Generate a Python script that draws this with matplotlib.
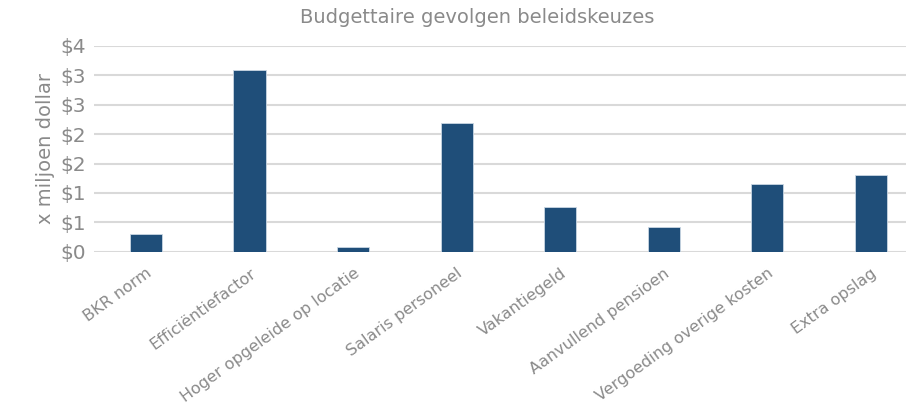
import matplotlib.pyplot as plt
from matplotlib.ticker import FuncFormatter, MultipleLocator

categories = ['BKR norm', 'Efficiëntiefactor', 'Hoger opgeleide op locatie',
              'Salaris personeel', 'Vakantiegeld', 'Aanvullend pensioen',
              'Vergoeding overige kosten', 'Extra opslag']
values = [0.30, 3.08, 0.09, 2.19, 0.77, 0.43, 1.16, 1.31]

grey = '#8a8a8a'
plt.rcParams['font.family'] = ['DejaVu Sans']

fig = plt.figure(figsize=(9.06, 4.15), dpi=100)
ax = fig.add_axes([0.104, 0.393, 0.896, 0.497])

x = range(len(categories))
ax.bar(x, values, width=0.31, color='#1F4E79', edgecolor='#c9d6e3', linewidth=0.6, zorder=3)

ax.set_ylim(0, 3.5)
ax.set_xlim(-0.5, 7.34)
ax.yaxis.set_major_locator(MultipleLocator(0.5))
ax.yaxis.set_major_formatter(FuncFormatter(lambda v, p: f"${int(v + 0.5)}"))
ax.grid(axis='y', color='#d9d9d9', linewidth=1.5, zorder=0)

for s in ax.spines.values():
    s.set_visible(False)
ax.tick_params(axis='both', length=0, colors=grey)
ax.tick_params(axis='y', labelsize=14.5, pad=6)
ax.set_xticks(list(x))
ax.set_xticklabels(categories, rotation=36, ha='right', rotation_mode='anchor',
                   fontsize=11.5, color=grey)
ax.tick_params(axis='x', pad=10)
for lbl in ax.get_xticklabels():
    lbl.set_x(lbl.get_position()[0])

ax.set_ylabel('x miljoen dollar', fontsize=14, color=grey, labelpad=4)
fig.suptitle('Budgettaire gevolgen beleidskeuzes', fontsize=14, color=grey, y=0.98, x=0.527)

fig.savefig('out.png', dpi=100)
